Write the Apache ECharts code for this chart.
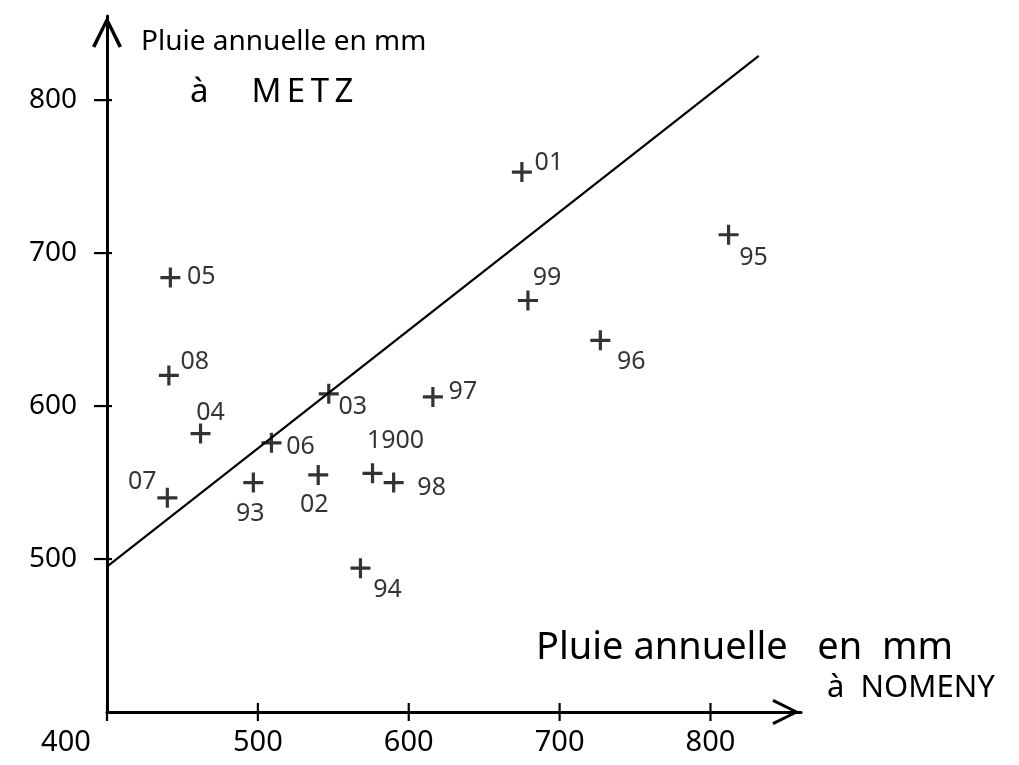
<!DOCTYPE html>
<html>
<head>
<meta charset="utf-8">
<script src="https://cdn.jsdelivr.net/npm/echarts@6/dist/echarts.min.js"></script>
<style>
  html, body { margin: 0; padding: 0; background: #fff; }
  #chart { width: 1019px; height: 765px; }
</style>
</head>
<body>
<div id="chart"></div>
<script>
// Annual rainfall (mm): Nomeny (x) against Metz (y), one point per year
var years    = ['01', '95', '05', '99', '96', '08', '04', '07', '93', '06', '03', '97', '1900', '98', '02', '94'];
var nomenyMm = [675, 812, 442, 679, 727, 441, 462, 440, 497, 509, 547, 616, 576, 590, 540, 568];
var metzMm   = [753, 712, 684, 669, 643, 620, 582, 540, 550, 576, 608, 606, 556, 550, 555, 494];

// Straight fitted line through the cloud
var lineX = [400, 832];
var lineY = [495, 829];

// Axis graduations
var xTicks = [400, 500, 600, 700, 800];
var yTicks = [500, 600, 700, 800];

// Where each year's label sits relative to its cross (px)
var labelOffsets = {
  '01': [27, -9], '95': [25, 23], '05': [31, -1], '99': [19, -23],
  '96': [31, 22], '08': [26, -14], '04': [10, -21], '07': [-25, -16],
  '93': [-3, 31], '06': [29, 4], '03': [24, 13], '97': [30, -5],
  '1900': [23, -32], '98': [38, 5], '02': [-4, 30], '94': [27, 22]
};

var X_MIN = 400, X_MAX = 860, Y_MIN = 400, Y_MAX = 855;

var FONT = '"Noto Sans", "DejaVu Sans", sans-serif';
var INK = '#000';
var cross = 'path://M4.2,0H5.8V4.2H10V5.8H5.8V10H4.2V5.8H0V4.2H4.2Z';
var chevron = 'path://M0,10L5,0L10,10L8.9,10.5L5,2.4L1.1,10.5Z';

var points = years.map(function (y, i) {
  return {
    name: y,
    value: [nomenyMm[i], metzMm[i]],
    label: { offset: labelOffsets[y] }
  };
});

var linePts = lineX.map(function (x, i) { return [x, lineY[i]]; });

// graduation strokes that cross the axis line on both sides
var tickMarks = xTicks.map(function (v) { return [v, Y_MIN, 0]; })
  .concat(yTicks.map(function (v) { return [X_MIN, v, 1]; }));

function renderTick(params, api) {
  var p = api.coord([api.value(0), api.value(1)]);
  var vertical = api.value(2) === 0;
  var shape = vertical
    ? { x1: p[0], y1: p[1] - 9, x2: p[0], y2: p[1] + 9 }
    : { x1: p[0] - 13, y1: p[1], x2: p[0] + 5, y2: p[1] };
  return { type: 'line', shape: shape, style: { stroke: INK, lineWidth: 2.2 } };
}

var chart = echarts.init(document.getElementById('chart'));
chart.setOption({
  backgroundColor: '#fff',
  animation: false,
  grid: { left: 107, right: 218, top: 16, bottom: 53, containLabel: false },
  title: [
    { text: 'Pluie annuelle en mm', left: 136, top: 23,
      textStyle: { fontFamily: FONT, fontWeight: 'normal', fontSize: 28, color: INK } },
    { text: 'à     M\u2009E\u2009T\u2009Z', left: 185, top: 71,
      textStyle: { fontFamily: FONT, fontWeight: 'normal', fontSize: 33, color: INK } },
    { text: 'Pluie annuelle   en  mm', left: 531, top: 624,
      textStyle: { fontFamily: FONT, fontWeight: 'normal', fontSize: 38, color: INK } },
    { text: 'à  NOMENY', left: 822, top: 668,
      textStyle: { fontFamily: FONT, fontWeight: 'normal', fontSize: 31, color: INK } }
  ],
  xAxis: {
    type: 'value', min: X_MIN, max: X_MAX, position: 'bottom',
    splitLine: { show: false },
    axisLine: { show: true, symbol: ['none', chevron], symbolSize: [26, 30], symbolOffset: [0, -15],
                lineStyle: { color: INK, width: 3 } },
    axisTick: { show: false },
    axisLabel: {
      customValues: xTicks, margin: 16, color: INK, fontFamily: FONT, fontSize: 29,
      formatter: function (v) { return v === 400 ? '{o|400}' : String(v); },
      rich: { o: { fontFamily: FONT, fontSize: 29, color: INK, padding: [0, 82, 0, 0] } }
    }
  },
  yAxis: {
    type: 'value', min: Y_MIN, max: Y_MAX, position: 'left',
    splitLine: { show: false },
    axisLine: { show: true, symbol: ['none', chevron], symbolSize: [30, 32], symbolOffset: [0, -16],
                lineStyle: { color: INK, width: 3 } },
    axisTick: { show: false },
    axisLabel: { customValues: yTicks, margin: 30, color: INK, fontFamily: FONT, fontSize: 28 }
  },
  series: [
    {
      type: 'custom',
      data: tickMarks,
      renderItem: renderTick,
      clip: false,
      silent: true,
      z: 4
    },
    {
      type: 'line',
      data: linePts,
      showSymbol: false,
      symbol: 'none',
      lineStyle: { color: INK, width: 2.2 },
      z: 2
    },
    {
      type: 'scatter',
      data: points,
      symbol: cross,
      symbolSize: 20,
      itemStyle: { color: INK },
      label: {
        show: true, position: 'inside', formatter: '{b}',
        color: INK, fontFamily: FONT, fontSize: 25
      },
      z: 3
    }
  ]
});
</script>
</body>
</html>
